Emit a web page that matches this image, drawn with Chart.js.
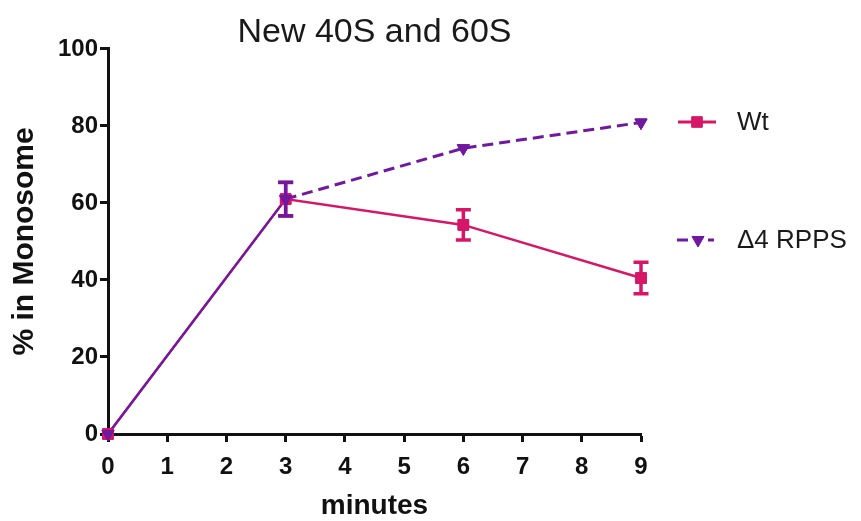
<!DOCTYPE html>
<html>
<head>
<meta charset="utf-8">
<script src="https://cdn.jsdelivr.net/npm/chart.js@4"></script>
<style>
  html, body { margin: 0; padding: 0; background: #fff; }
  #wrap { width: 861px; height: 521px; }
</style>
</head>
<body>
<div id="wrap"><canvas id="c" width="861" height="521"></canvas></div>
<script>
// Time points (minutes)
const minutes = [0, 3, 6, 9];

// Wild type: mean % in monosome and SEM
const wtValues = [0, 61, 54.3, 40.5];
const wtErrors = [0, 4.3, 3.9, 4.1];

// Δ4 RPPS: mean % in monosome and SEM
const rppsValues = [0, 61, 74.2, 80.9];
const rppsErrors = [0, 4.4, 0, 0];

const seriesNames = ['Wt', '\u03944 RPPS'];
const yTicks = [0, 20, 40, 60, 80, 100];
const xTicks = [0, 1, 2, 3, 4, 5, 6, 7, 8, 9];

const WT_COLOR = 'rgb(214, 22, 102)';
const RPPS_COLOR = 'rgb(112, 24, 160)';
const FONT = "'Liberation Sans', Arial, sans-serif";

const toPoints = (xs, ys) => xs.map((x, i) => ({ x, y: ys[i] }));

// Vertical error bars with caps, drawn through the chart scales
const errorBars = {
  id: 'errorBars',
  afterDatasetsDraw(chart) {
    const { ctx, scales: { x, y } } = chart;
    chart.data.datasets.forEach((ds, di) => {
      if (!ds.errors || !chart.isDatasetVisible(di)) return;
      ctx.save();
      ctx.strokeStyle = ds.borderColor;
      ctx.lineWidth = 3.5;
      ds.data.forEach((p, i) => {
        const e = ds.errors[i];
        if (!e) return;
        const px = x.getPixelForValue(p.x);
        const top = y.getPixelForValue(p.y + e);
        const bot = y.getPixelForValue(p.y - e);
        ctx.beginPath();
        ctx.moveTo(px, top); ctx.lineTo(px, bot);
        ctx.moveTo(px - 7.5, top); ctx.lineTo(px + 7.5, top);
        ctx.moveTo(px - 7.5, bot); ctx.lineTo(px + 7.5, bot);
        ctx.stroke();
      });
      // redraw the markers above the bars
      const meta = chart.getDatasetMeta(di);
      meta.data.forEach((pt) => pt.draw(ctx, chart.chartArea));
      ctx.restore();
    });
  }
};

// Legend on the right: a short line sample with the marker, then the name
const sideLegend = {
  id: 'sideLegend',
  afterDraw(chart) {
    const { ctx } = chart;
    const rows = [122, 240];
    chart.data.datasets.forEach((ds, i) => {
      const cy = rows[i];
      ctx.save();
      ctx.strokeStyle = ds.borderColor;
      ctx.fillStyle = ds.backgroundColor;
      ctx.lineWidth = 3;
      if (i === 1) {
        ctx.beginPath();
        ctx.moveTo(677, cy); ctx.lineTo(688, cy);
        ctx.moveTo(708, cy); ctx.lineTo(714, cy);
        ctx.stroke();
      } else {
        ctx.beginPath();
        ctx.moveTo(678, cy); ctx.lineTo(716, cy);
        ctx.stroke();
      }
      ctx.lineWidth = 1;
      Chart.helpers.drawPoint(ctx, {
        pointStyle: ds.pointStyle,
        radius: ds.pointRadius,
        rotation: ds.pointRotation || 0,
        borderWidth: 1
      }, i === 1 ? 698 : 697, cy);
      ctx.fillStyle = '#1a1a1a';
      ctx.font = "26px " + FONT;
      ctx.textBaseline = 'middle';
      ctx.textAlign = 'left';
      ctx.fillText(ds.label, 737, cy + 1);
      ctx.restore();
    });
  }
};

new Chart(document.getElementById('c'), {
  type: 'line',
  data: {
    datasets: [
      {
        label: seriesNames[0],
        data: toPoints(minutes, wtValues),
        errors: wtErrors,
        order: 2,
        borderColor: WT_COLOR,
        backgroundColor: WT_COLOR,
        borderWidth: 2.5,
        pointStyle: 'rect',
        pointRadius: 7.5,
        pointRotation: 0,
        pointBorderWidth: 1,
        tension: 0
      },
      {
        label: seriesNames[1],
        data: toPoints(minutes, rppsValues),
        errors: rppsErrors,
        order: 1,
        borderColor: RPPS_COLOR,
        backgroundColor: RPPS_COLOR,
        borderWidth: 3,
        pointStyle: 'triangle',
        pointRadius: 7,
        pointRotation: 180,
        pointBorderWidth: 1,
        segment: {
          borderDash: (c) => c.p0DataIndex === 0 ? [] : [11, 6],
          borderWidth: (c) => c.p0DataIndex === 0 ? 2.2 : 3
        },
        tension: 0
      }
    ]
  },
  options: {
    responsive: false,
    animation: false,
    clip: false,
    layout: { padding: { left: 0, right: 220, top: 0, bottom: 0 } },
    plugins: {
      legend: { display: false },
      tooltip: { enabled: false },
      title: {
        display: true,
        text: 'New 40S and 60S',
        fullSize: false,
        color: '#1a1a1a',
        font: { family: FONT, size: 34, weight: 'normal', lineHeight: 0.85 },
        padding: { top: 18, bottom: 2 }
      }
    },
    scales: {
      x: {
        type: 'linear',
        min: 0,
        max: 9,
        afterBuildTicks: (s) => { s.ticks = xTicks.map(v => ({ value: v })); },
        afterFit: (s) => { s.height = 87; },
        grid: { display: true, drawOnChartArea: false, drawTicks: true, tickLength: 8, tickWidth: 3, color: '#111' },
        border: { display: true, color: '#111', width: 3 },
        ticks: {
          color: '#111',
          padding: 11,
          maxRotation: 0,
          autoSkip: false,
          font: { family: FONT, size: 24, weight: 'bold' }
        },
        title: {
          display: true,
          text: 'minutes',
          color: '#111',
          font: { family: FONT, size: 28, weight: 'bold', lineHeight: 1 },
          padding: { top: 0, bottom: 1 }
        }
      },
      y: {
        min: 0,
        max: 100,
        afterBuildTicks: (s) => { s.ticks = yTicks.map(v => ({ value: v })); },
        afterFit: (s) => { s.width = 108; },
        grid: { display: true, drawOnChartArea: false, drawTicks: true, tickLength: 8, tickWidth: 3, color: '#111' },
        border: { display: true, color: '#111', width: 3 },
        ticks: {
          color: '#111',
          padding: 2,
          font: { family: FONT, size: 24, weight: 'bold' }
        },
        title: {
          display: true,
          text: '% in Monosome',
          color: '#111',
          font: { family: FONT, size: 30, weight: 'bold', lineHeight: 1 },
          padding: { top: 10, bottom: 0 }
        }
      }
    }
  },
  plugins: [errorBars, sideLegend]
});
</script>
</body>
</html>
